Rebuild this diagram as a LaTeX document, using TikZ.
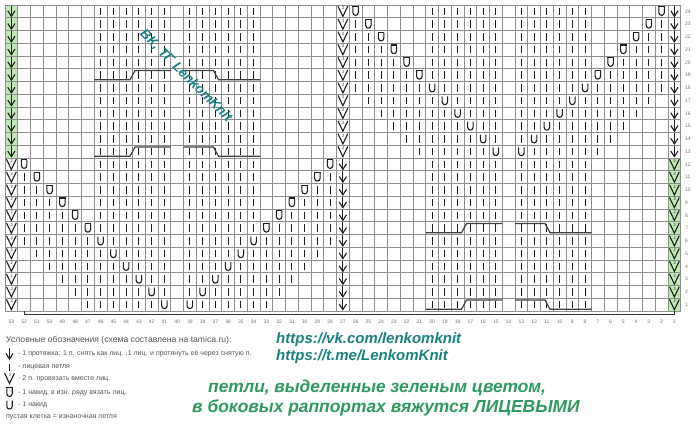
\documentclass[tikz,border=0pt]{standalone}
\usepackage{fontspec}
\setmainfont{Liberation Sans}
\definecolor{cellgreen}{HTML}{BDE9B3}
\definecolor{gridgray}{HTML}{8E8E8E}
\definecolor{symcol}{HTML}{1E1E1E}
\definecolor{tealtxt}{HTML}{1A8282}
\definecolor{greentxt}{HTML}{2E9A5E}
\definecolor{labgray}{HTML}{707070}
\definecolor{leggray}{HTML}{555555}
\tikzset{
  sym/.style={draw=symcol, line width=1.1pt},
  gridline/.style={draw=gridgray, line width=0.8pt},
  cableline/.style={draw=black!75, line width=1.2pt},
  knit/.pic={\draw[sym] (0,-3.8)--(0,3.8);},
  yo/.pic={\draw[sym] (-2.7,-4.3)--(-2.7,1.3) arc[start angle=180,end angle=0,radius=2.7] -- (2.7,-4.3);},
  yob/.pic={\draw[sym] (-2.7,-4.3)--(-2.7,1.3) arc[start angle=180,end angle=0,radius=2.7] -- (2.7,-4.3);
            \draw[sym] (-3.2,-4.6)--(3.2,-4.6);},
  arrowsym/.pic={\draw[sym] (0,-5.8)--(0,5); \draw[sym] (-3.6,-0.6)--(0,5)--(3.6,-0.6);},
  vtwo/.pic={\draw[sym] (-4.9,-5.2)--(0,5)--(4.9,-5.2);
             \path (0.4,-3.2) node[font=\fontsize{4}{4}\selectfont, inner sep=0pt, text=symcol] {2};},
  collab/.style={font=\fontsize{5}{5}\selectfont, text=labgray, inner sep=0pt},
  legtxt/.style={font=\fontsize{7}{8}\selectfont, text=leggray, anchor=west, inner sep=0pt},
}
\newcommand\Sym[3]{\pic at ({5+(53.5-(#2))*12.75},{5+(24.5-(#3))*12.75}) {#1};}
\newcommand\KR[2]{\foreach \a/\b in {#2}{\foreach \c in {\a,...,\b}{\Sym{knit}{\c}{#1}}}}
\newcommand\Cable[2]{%
  \pgfmathsetmacro\xL{5+(53-(#1))*12.75}%
  \pgfmathsetmacro\yT{5+(24-(#2))*12.75}%
  \draw[cableline] (\xL,\yT+11) -- (\xL+35.75,\yT+11) -- (\xL+40.75,\yT+1.8) -- (\xL+76.5,\yT+1.8);
  \draw[cableline] (\xL+89.25,\yT+1.8) -- (\xL+119.25,\yT+1.8) -- (\xL+124.25,\yT+11) -- (\xL+165.75,\yT+11);
}
\begin{document}
\begin{tikzpicture}[x=1pt,y=-1pt]
\useasboundingbox[fill=white] (0,0) rectangle (699,429);
% green cells
\fill[cellgreen] (5,5) rectangle (17.75,158);
\fill[cellgreen] (668,158) rectangle (680.75,311);
% grid
\foreach \i in {0,...,53}{\draw[gridline] ({5+\i*12.75},5) -- ({5+\i*12.75},311);}
\foreach \j in {0,...,24}{\draw[gridline] (5,{5+\j*12.75}) -- (680.75,{5+\j*12.75});}
% edge columns
\foreach \r in {13,...,24}{\Sym{arrowsym}{53}{\r}\Sym{vtwo}{27}{\r}\Sym{arrowsym}{1}{\r}}
\foreach \r in {1,...,12}{\Sym{vtwo}{53}{\r}\Sym{arrowsym}{27}{\r}\Sym{vtwo}{1}{\r}}
% knits
\foreach \r in {13,...,24}{\KR{\r}{34/39,41/46}}
\foreach \r in {1,...,12}{\KR{\r}{8/13,15/20}}
\KR{1}{33/38,42/47}
\KR{2}{32/37,39/39,41/41,43/48}
\KR{3}{31/36,38/39,41/42,44/49}
\KR{4}{30/35,37/39,41/43,45/50}
\KR{5}{29/34,36/39,41/44,46/51}
\KR{6}{28/33,35/39,41/45,47/52}
\KR{7}{28/32,34/39,41/46,48/52}
\KR{8}{28/31,34/39,41/46,49/52}
\KR{9}{28/30,34/39,41/46,50/52}
\KR{10}{28/29,34/39,41/46,51/52}
\KR{11}{28/28,34/39,41/46,52/52}
\KR{12}{34/39,41/46}
\KR{13}{7/12,16/21}
\KR{14}{6/11,13/13,15/15,17/22}
\KR{15}{5/10,12/13,15/16,18/23}
\KR{16}{4/9,11/13,15/17,19/24}
\KR{17}{3/8,10/13,15/18,20/25}
\KR{18}{2/7,9/13,15/19,21/26}
\KR{19}{2/6,8/13,15/20,22/26}
\KR{20}{2/5,8/13,15/20,23/26}
\KR{21}{2/4,8/13,15/20,24/26}
\KR{22}{2/3,8/13,15/20,25/26}
\KR{23}{2/2,8/13,15/20,26/26}
\KR{24}{8/13,15/20}
% yarn overs
\foreach \r in {1,...,6}{\Sym{yo}{40+\r}{\r}\Sym{yo}{40-\r}{\r}}
\foreach \r in {7,...,12}{\Sym{yob}{40+\r}{\r}\Sym{yob}{40-\r}{\r}}
\foreach \r in {13,...,18}{\Sym{yo}{\r+2}{\r}\Sym{yo}{26-\r}{\r}}
\foreach \r in {19,...,24}{\Sym{yob}{\r+2}{\r}\Sym{yob}{26-\r}{\r}}
% cables
\Cable{46}{19}
\Cable{46}{13}
\Cable{20}{7}
\Cable{20}{1}
% repeat bracket
\coordinate (bl) at (24.1,311);
\coordinate (br) at (674.4,311);
\draw[line width=1pt, draw=black!80] (bl) -- ++(0,3.6) -| (br);
% labels
\foreach \c in {1,...,53}{\node[collab] (cl\c) at ({5+(53.5-\c)*12.75},322) {\c};}
\foreach \r in {1,...,24}{\node[collab, anchor=west] (rl\r) at (685,{5+(24.5-\r)*12.75}) {\r};}
% watermark
\node[rotate=-45, text=tealtxt, font=\fontsize{13.5}{14}\bfseries\itshape] (wm) at (186,76) {ВК, ТГ LenkomKnit};
% legend
\node[anchor=west, inner sep=0pt, text=leggray, font=\fontsize{8.6}{9.5}\selectfont] (lt) at (6,340) {Условные обозначения (схема составлена на tamica.ru):};
\pic at (9.5,354) {arrowsym};
\node[legtxt] (l1) at (18,354) {- 1 протяжка: 1 п. снять как лиц. ,1 лиц. и протянуть её через снятую п.};
\pic at (9.5,367.5) {knit};
\node[legtxt] (l2) at (18,367.5) {- лицевая петля};
\pic at (9.5,378.5) {vtwo};
\node[legtxt] (l3) at (18,378.5) {- 2 п. провязать вместе лиц.};
\pic at (9.5,392.5) {yob};
\node[legtxt] (l4) at (18,392.5) {- 1 накид, в изн. ряду вязать лиц.};
\pic at (9.5,405) {yo};
\node[legtxt] (l5) at (18,405) {- 1 накид};
\node[legtxt] (l6) at (6,417) {пустая клетка = изнаночная петля};
% links
\node[anchor=west, inner sep=0pt, text=tealtxt, font=\fontsize{15}{16}\bfseries\itshape] (vk) at (276,340) {https://vk.com/lenkomknit};
\node[anchor=west, inner sep=0pt, text=tealtxt, font=\fontsize{15}{16}\bfseries\itshape] (tg) at (276,357) {https://t.me/LenkomKnit};
% note
\node[anchor=west, inner sep=0pt, text=greentxt, font=\fontsize{17.3}{18}\bfseries\itshape] (n1) at (208,388) {петли, выделенные зеленым цветом,};
\node[anchor=west, inner sep=0pt, text=greentxt, font=\fontsize{17.4}{18}\bfseries\itshape] (n2) at (192,408) {в боковых раппортах вяжутся ЛИЦЕВЫМИ};
\end{tikzpicture}
\end{document}
